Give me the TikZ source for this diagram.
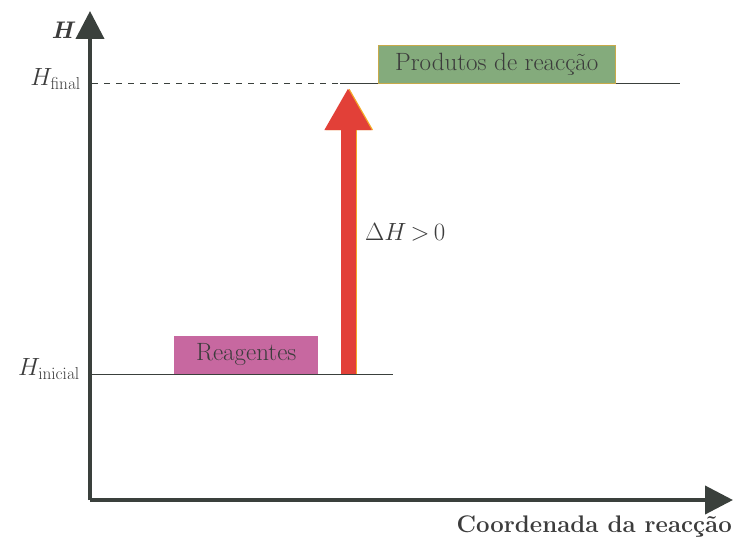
\documentclass[tikz,border=0pt]{standalone}
\usetikzlibrary{arrows.meta}
\definecolor{axisgray}{RGB}{58,64,60}
\definecolor{prodgreen}{RGB}{132,171,124}
\definecolor{reagpink}{RGB}{199,104,160}
\definecolor{arrred}{RGB}{226,64,56}
\definecolor{arrorange}{RGB}{245,170,40}
\definecolor{txtgray}{RGB}{60,60,60}
\begin{document}
\begin{tikzpicture}[x=1pt,y=-1pt,
  axisline/.style={draw=axisgray,line width=4pt,-{Triangle[length=28pt,width=28pt]}},
  levelline/.style={draw=axisgray,line width=1pt},
  labelbox/.style={inner sep=0pt,minimum height=38pt,text=txtgray,font=\fontsize{25}{28}\selectfont},
  lbl/.style={text=txtgray,font=\fontsize{25}{28}\selectfont,inner sep=0pt}]
\useasboundingbox (0,0) rectangle (734,543);
\coordinate (O) at (90,500);
\coordinate (Ytip) at (90,11);
\coordinate (Xtip) at (733,500);
\draw[axisline] (O) -- (Ytip);
\draw[axisline] (O) -- (Xtip);
\node[lbl,font=\fontsize{24}{28}\selectfont\bfseries\itshape,anchor=east] (H) at (73,30) {H};
% final level
\coordinate (F0) at (92,84);
\coordinate (F1) at (340,84);
\coordinate (F2) at (680,84);
\draw[levelline,dashed,dash pattern=on 6pt off 6pt] (F0) -- (F1);
\draw[levelline] (F1) -- (F2);
\node[lbl,anchor=east] (Hf) at (81,79) {$H_{\mathrm{final}}$};
% initial level
\coordinate (I0) at (92,374);
\coordinate (I1) at (393,374);
\draw[levelline] (I0) -- (I1);
\node[lbl,anchor=east] (Hi) at (80,369) {$H_{\mathrm{inicial}}$};
% boxes
\node[labelbox,fill=prodgreen,draw=arrorange!60!prodgreen,line width=0.6pt,minimum width=237pt,anchor=south west] (prod) at (378,84) {Produtos de reacção};
\node[labelbox,fill=reagpink,minimum width=144pt,anchor=south west] (reag) at (174,374) {Reagentes};
% red arrow
\coordinate (A0) at (348,374);
\coordinate (A1) at (348,88);
\draw[draw=arrorange,line width=15pt,-{Triangle[length=42pt,width=44pt]}] ([xshift=1.5pt]A0) -- ([xshift=1.5pt]A1);
\draw[draw=arrred,fill=arrred,line width=15pt,-{Triangle[length=42pt,width=44pt]}] (A0) -- (A1);
\node[lbl,font=\fontsize{23}{26}\selectfont,anchor=west] (dH) at (365,232) {$\Delta H\,{>}\,0$};
\node[lbl,font=\fontsize{24}{28}\selectfont\bfseries,anchor=east] (xl) at (732,527) {Coordenada da reacção};
\end{tikzpicture}
\end{document}
